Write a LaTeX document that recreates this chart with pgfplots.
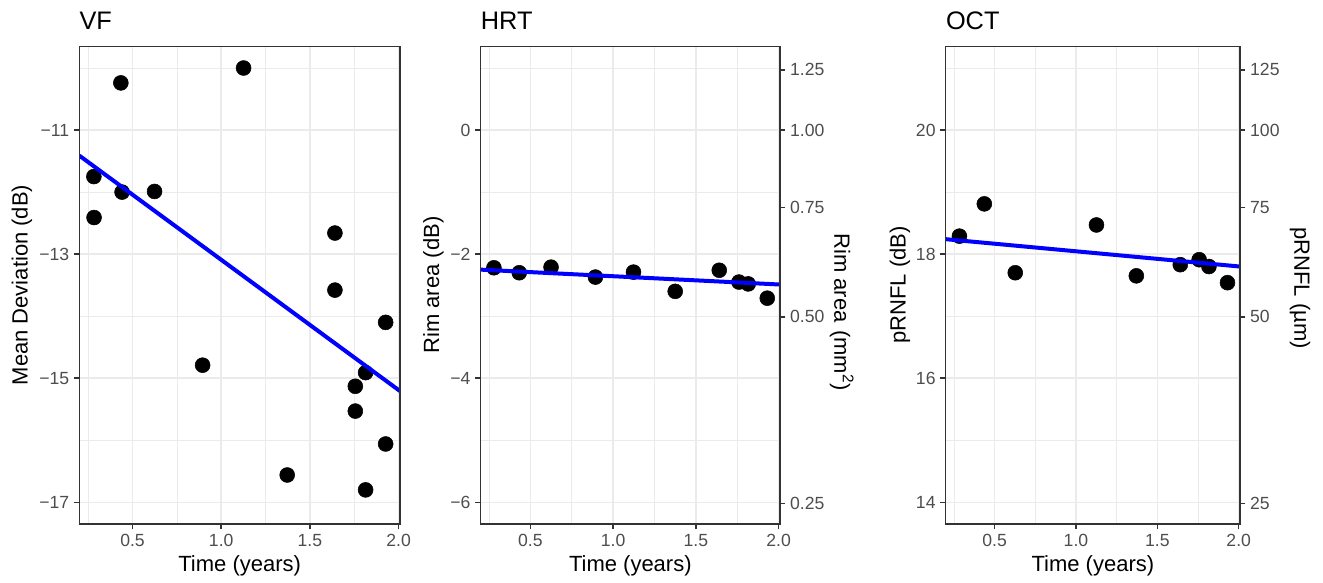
\documentclass[border=0pt]{standalone}
\usepackage{fontspec}
\setmainfont{Liberation Sans}
\usepackage{pgfplots}
\pgfplotsset{compat=1.18}

\definecolor{gridgrey}{HTML}{EBEBEB}
\definecolor{ticktext}{HTML}{4D4D4D}
\definecolor{panelborder}{HTML}{333333}

\newcommand{\ticksize}{\fontsize{13.2pt}{15pt}\selectfont}
\newcommand{\labsize}{\fontsize{16.5pt}{19pt}\selectfont}
\newcommand{\titlesize}{\fontsize{19pt}{22pt}\selectfont}

% one panel = scale only axis box, placed by its lower left corner
\pgfplotsset{
  panel/.style={
    scale only axis, anchor=south west, height=358pt,
    xmin=0.2, xmax=2.008,
    xtick={0.5,1,1.5,2}, xticklabels={0.5,1.0,1.5,2.0},
    minor xtick={0.25,0.75,1.25,1.75},
    grid=both,
    major grid style={gridgrey, line width=1.1pt},
    minor grid style={gridgrey, line width=0.55pt},
    axis line style={panelborder, line width=1.1pt},
    tick style={panelborder, line width=1.1pt},
    major tick length=4.1pt, minor tick length=0pt,
    tick align=outside, tick pos=left,
    tick label style={font=\ticksize, text=ticktext},
    clip mode=individual,
  },
  secaxis/.style={
    scale only axis, anchor=south west, height=358pt,
    xmin=0.2, xmax=2.008,
    axis x line=none, axis y line*=right,
    axis line style={panelborder, line width=1.1pt},
    tick style={panelborder, line width=1.1pt},
    major tick length=4.1pt, tick align=outside,
    tick label style={font=\ticksize, text=ticktext},
  },
  pts/.style={only marks, mark=*, mark size=5.6pt, black},
  fit/.style={blue, line width=3pt, no marks},
}
% panel.border of theme_bw, drawn over the data
\newcommand{\frameit}{\draw[panelborder, line width=1.1pt] (rel axis cs:0,0) rectangle (rel axis cs:1,1);}

\pgfplotstableread{
t md
0.282 -11.75
0.283 -12.41
0.434 -10.24
0.441 -12.00
0.624 -11.99
0.895 -14.79
1.126 -10.00
1.372 -16.56
1.641 -12.66
1.641 -13.58
1.756 -15.13
1.756 -15.53
1.814 -14.91
1.814 -16.80
1.927 -14.10
1.927 -16.06
}\vfdata

\pgfplotstableread{
t rim
0.280 -2.22
0.433 -2.30
0.625 -2.21
0.893 -2.37
1.123 -2.29
1.375 -2.60
1.641 -2.26
1.760 -2.45
1.816 -2.48
1.931 -2.71
}\hrtdata

\pgfplotstableread{
t rnfl
0.284 18.29
0.437 18.81
0.627 17.70
1.126 18.47
1.371 17.65
1.641 17.83
1.757 17.91
1.817 17.80
1.931 17.54
}\octdata

\begin{document}
\begin{tikzpicture}
\path[use as bounding box] (0,0) rectangle (992.25pt,-436.5pt);

% ---- VF ----
\begin{axis}[panel, at={(59.5pt,-393pt)}, width=240.5pt,
  ymin=-17.35, ymax=-9.656,
  ytick={-17,-15,-13,-11}, yticklabels={−17,−15,−13,−11},
  minor ytick={-16,-14,-12,-10}]
\addplot[pts] table[x=t,y=md] {\vfdata};
\addplot[fit] coordinates {(0.2,-11.412) (2.008,-15.207)};
\frameit
\end{axis}

% ---- HRT ----
\begin{axis}[panel, at={(360.5pt,-393pt)}, width=224.5pt,
  ymin=-6.35, ymax=1.344,
  ytick={-6,-4,-2,0}, yticklabels={−6,−4,−2,0},
  minor ytick={-5,-3,-1,1}]
\addplot[pts] table[x=t,y=rim] {\hrtdata};
\addplot[fit] coordinates {(0.2,-2.250) (2.008,-2.490)};
\frameit
\end{axis}
\begin{axis}[secaxis, at={(360.5pt,-393pt)}, width=224.5pt,
  ymin=-6.35, ymax=1.344,
  ytick={0.969,0,-1.249,-3.010,-6.021},
  yticklabels={1.25,1.00,0.75,0.50,0.25}]
\end{axis}

% ---- OCT ----
\begin{axis}[panel, at={(709.3pt,-393pt)}, width=220.7pt,
  ymin=13.65, ymax=21.344,
  ytick={14,16,18,20}, yticklabels={14,16,18,20},
  minor ytick={15,17,19,21}]
\addplot[pts] table[x=t,y=rnfl] {\octdata};
\addplot[fit] coordinates {(0.2,18.241) (2.008,17.800)};
\frameit
\end{axis}
\begin{axis}[secaxis, at={(709.3pt,-393pt)}, width=220.7pt,
  ymin=13.65, ymax=21.344,
  ytick={20.969,20,18.751,16.990,13.979},
  yticklabels={125,100,75,50,25}]
\end{axis}

% titles
\node[anchor=base west, font=\titlesize, inner sep=0pt] at (59.5pt,-22pt) {VF};
\node[anchor=base west, font=\titlesize, inner sep=0pt] at (360.5pt,-22pt) {HRT};
\node[anchor=base west, font=\titlesize, inner sep=0pt] at (709.3pt,-22pt) {OCT};

% axis titles
\node[anchor=base, font=\labsize, inner sep=0pt] at (179.75pt,-428.6pt) {Time (years)};
\node[anchor=base, font=\labsize, inner sep=0pt] at (472.75pt,-428.6pt) {Time (years)};
\node[anchor=base, font=\labsize, inner sep=0pt] at (819.65pt,-428.6pt) {Time (years)};

\node[rotate=90, font=\labsize, inner sep=0pt] at (16.5pt,-213.75pt) {Mean Deviation (dB)};
\node[rotate=90, font=\labsize, inner sep=0pt] at (325pt,-213.75pt) {Rim area (dB)};
\node[rotate=-90, font=\labsize, inner sep=0pt] at (631.3pt,-234pt) {Rim area\,\,(mm\textsuperscript{2})};
\node[rotate=90, font=\labsize, inner sep=0pt] at (675pt,-213.75pt) {pRNFL (dB)};
\node[rotate=-90, font=\labsize, inner sep=0pt] at (975pt,-216pt) {pRNFL (µm)};
\end{tikzpicture}
\end{document}
